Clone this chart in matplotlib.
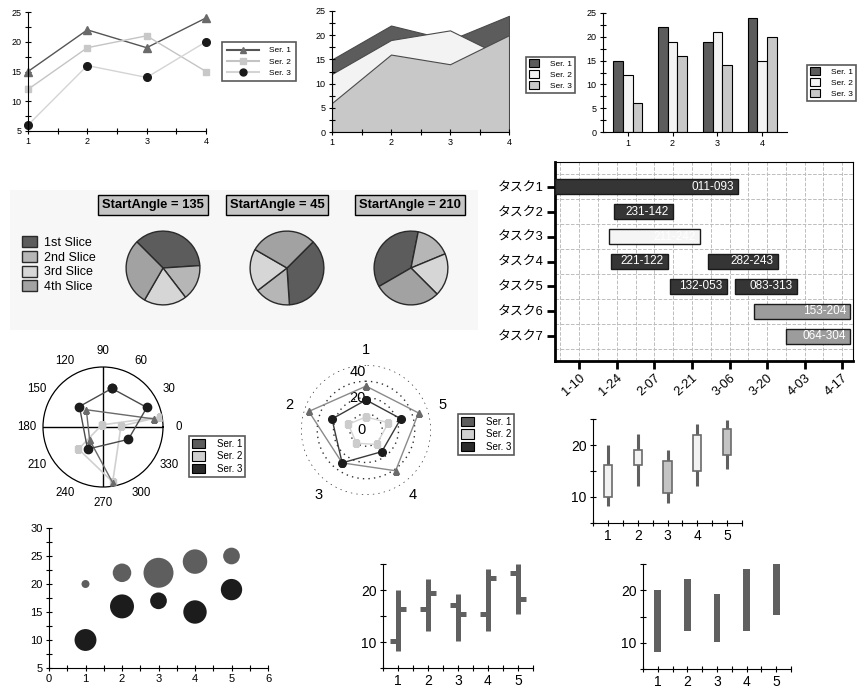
import numpy as np
import matplotlib
matplotlib.use('Agg')
import matplotlib.pyplot as plt
import matplotlib.dates as mdates
from matplotlib.lines import Line2D
from matplotlib.patches import Patch
from matplotlib.ticker import MultipleLocator, FuncFormatter

plt.rcParams['font.family'] = ['Liberation Sans', 'Noto Sans CJK JP', 'DejaVu Sans']

# ---------------- data ----------------
ser_names = ['Ser. 1', 'Ser. 2', 'Ser. 3']
cat_x = [1, 2, 3, 4]
ser1 = [15, 22, 19, 24]
ser2 = [12, 19, 21, 15]
ser3 = [6, 16, 14, 20]

slice_names = ['1st Slice', '2nd Slice', '3rd Slice', '4th Slice']
slice_values = [35, 15, 18, 28]
start_angles = [135, 45, 210]

task_names = ['タスク1', 'タスク2', 'タスク3', 'タスク4', 'タスク5', 'タスク6', 'タスク7']
gantt_row = [1, 2, 3, 4, 4, 5, 5, 6, 7]
gantt_start = ['2008-01-01', '2008-01-23', '2008-01-21', '2008-01-22', '2008-02-27',
               '2008-02-13', '2008-03-08', '2008-03-15', '2008-03-27']
gantt_end = ['2008-03-09', '2008-02-14', '2008-02-24', '2008-02-12', '2008-03-24',
             '2008-03-05', '2008-03-31', '2008-04-20', '2008-04-20']
gantt_code = ['011-093', '231-142', '211-242', '221-122', '282-243',
              '132-053', '083-313', '153-204', '064-304']
gantt_tone = [0, 0, 1, 0, 0, 0, 0, 2, 2]

# polar: angle (deg), radius
pol1_theta = [9, 134, 224, 280]
pol1_r = [8.6, 4.0, 3.1, 9.5]
pol2_theta = [120, 10, 3, 280, 222]
pol2_r = [0.4, 9.6, 3.0, 9.3, 5.5]
pol3_theta = [77, 24, 334, 235, 139]
pol3_r = [6.6, 8.0, 4.7, 4.5, 5.2]

radar_cats = ['1', '2', '3', '4', '5']
radar1 = [27, 37, 25, 31, 34]
radar2 = [8, 11.5, 10, 11, 14.5]
radar3 = [18.5, 22, 25, 16.5, 22.5]

stock_x = [1, 2, 3, 4, 5]
c_open = [10, 16.2, 17, 15, 23]
c_close = [16.2, 19.1, 10.8, 22, 18]
c_high = [20, 22.2, 19.1, 24, 24.9]
c_low = [8.2, 12.2, 8.9, 12.2, 15.3]

o_open = [10.2, 16.4, 17.2, 15.3, 23.2]
o_close = [16.4, 19.4, 15.3, 22.4, 18.3]
o_high = [20, 22.2, 19.2, 24.1, 25]
o_low = [8.2, 12.2, 10.2, 12.2, 15.3]

bub_x = [1, 2, 3, 4, 5]
bubA_y = [20, 22, 22, 24, 25]
bubA_size = [1.6, 8.6, 22.5, 15, 7]
bubB_y = [10, 16, 17, 15, 19]
bubB_size = [12, 14.4, 7, 13.7, 11.4]

# ---------------- layout helpers ----------------
W, H = 859, 695
fig = plt.figure(figsize=(W / 100, H / 100), dpi=100)


def px_axes(x0, y0, x1, y1, **kw):
    return fig.add_axes([x0 / W, 1 - y1 / H, (x1 - x0) / W, (y1 - y0) / H], **kw)


def fxy(x, y):
    return (x / W, 1 - y / H)


def plain(ax, fs):
    ax.spines['top'].set_visible(False)
    ax.spines['right'].set_visible(False)
    ax.tick_params(which='both', direction='inout', length=5, width=0.8,
                   labelsize=fs, pad=2)


def patch_legend(colors, x, y, fs=6):
    hs = [Patch(facecolor=c, edgecolor='black', lw=0.8) for c in colors]
    leg = fig.legend(hs, ser_names, loc='upper left', bbox_to_anchor=fxy(x, y),
                     fontsize=fs, frameon=True, fancybox=False, edgecolor='#303030',
                     handlelength=1.3, handleheight=1.1, handletextpad=1.3,
                     borderpad=0.3, labelspacing=0.25, borderaxespad=0)
    leg.get_frame().set_linewidth(1.2)
    return leg


ser_fill = ['#5c5c5c', '#f3f3f3', '#c8c8c8']

# ---------------- 1: line chart ----------------
ax1 = px_axes(28, 12, 206, 131)
ax1.plot(cat_x, ser1, color='#555555', lw=1, marker='^', ms=5.5, mfc='#6a6a6a',
         mec='#6a6a6a', clip_on=False)
ax1.plot(cat_x, ser2, color='#c4c4c4', lw=1, marker='s', ms=5, mfc='#c8c8c8',
         mec='#c8c8c8', clip_on=False)
ax1.plot(cat_x, ser3, color='#d4d4d4', lw=1, marker='o', ms=5.5, mfc='#1a1a1a',
         mec='#1a1a1a', clip_on=False)
ax1.set_xlim(1, 4)
ax1.set_ylim(5, 25)
ax1.xaxis.set_major_locator(MultipleLocator(1))
ax1.xaxis.set_minor_locator(MultipleLocator(0.5))
ax1.yaxis.set_major_locator(MultipleLocator(5))
ax1.yaxis.set_minor_locator(MultipleLocator(2.5))
plain(ax1, 6.5)
line_handles = [Line2D([], [], color='#555555', marker='^', ms=5, mfc='#6a6a6a', mec='#6a6a6a'),
                Line2D([], [], color='#c4c4c4', marker='s', ms=4.5, mfc='#c8c8c8', mec='#c8c8c8'),
                Line2D([], [], color='#d4d4d4', marker='o', ms=5, mfc='#1a1a1a', mec='#1a1a1a')]
leg1 = fig.legend(line_handles, ser_names, loc='upper left', bbox_to_anchor=fxy(222, 42),
                  fontsize=6, frameon=True, fancybox=False, edgecolor='#303030',
                  handlelength=3.9, handletextpad=1.2, borderpad=0.55,
                  labelspacing=0.4, borderaxespad=0)
leg1.get_frame().set_linewidth(1.2)

# ---------------- 2: area chart ----------------
ax2 = px_axes(332, 11, 509, 132)
for vals, c in zip([ser1, ser2, ser3], ser_fill):
    ax2.fill_between(cat_x, 0, vals, facecolor=c, edgecolor='#4a4a4a', lw=0.8)
ax2.set_xlim(1, 4)
ax2.set_ylim(0, 25)
ax2.xaxis.set_major_locator(MultipleLocator(1))
ax2.xaxis.set_minor_locator(MultipleLocator(0.5))
ax2.yaxis.set_major_locator(MultipleLocator(5))
ax2.yaxis.set_minor_locator(MultipleLocator(2.5))
plain(ax2, 6.5)
patch_legend(ser_fill, 526, 57)

# ---------------- 3: bar chart ----------------
ax3 = px_axes(603, 13, 787, 132)
bw = 0.22
for i, (vals, c) in enumerate(zip([ser1, ser2, ser3], ser_fill)):
    ax3.bar(np.array(cat_x) + (i - 1) * bw, vals, bw, color=c, edgecolor='black', lw=0.8)
ax3.set_xlim(0.45, 4.55)
ax3.set_ylim(0, 25)
ax3.set_xticks(cat_x)
ax3.yaxis.set_major_locator(MultipleLocator(5))
ax3.yaxis.set_minor_locator(MultipleLocator(2.5))
plain(ax3, 6.5)
ax3.tick_params(axis='x', direction='out', length=3)
patch_legend(ser_fill, 807, 65)

# ---------------- 4: pies ----------------
bg = px_axes(10, 190, 478, 330)
bg.set_facecolor('#f7f7f7')
bg.set_xticks([])
bg.set_yticks([])
for s in bg.spines.values():
    s.set_visible(False)

pie_colors = ['#5c5c5c', '#b6b6b6', '#d6d6d6', '#a2a2a2']
for cx, tx, sa in zip([163, 287, 411], [153, 277, 410], start_angles):
    axp = px_axes(cx - 38, 230, cx + 38, 306)
    axp.pie(slice_values, colors=pie_colors, startangle=sa, counterclock=False,
            wedgeprops=dict(edgecolor='#2a2a2a', linewidth=1))
    axp.set_xlim(-1.03, 1.03)
    axp.set_ylim(-1.03, 1.03)
    fig.text(tx / W, 1 - 205 / H, f'StartAngle = {sa}', ha='center', va='center',
             fontsize=9.4, weight='bold',
             bbox=dict(boxstyle='square,pad=0.28', fc='#c4c4c4', ec='black', lw=1))

pie_handles = [Patch(facecolor=c, edgecolor='#2a2a2a', lw=1) for c in pie_colors]
fig.legend(pie_handles, slice_names, loc='upper left', bbox_to_anchor=fxy(22, 236),
           fontsize=9, frameon=False, handlelength=1.2, handleheight=1.0,
           handletextpad=0.6, borderpad=0, labelspacing=0.15, borderaxespad=0)

# ---------------- 5: gantt ----------------
axg = px_axes(555, 162, 853, 361)
g_start = mdates.date2num(np.array(gantt_start, dtype='datetime64[D]'))
g_end = mdates.date2num(np.array(gantt_end, dtype='datetime64[D]'))
tones = ['#353535', '#f5f5f5', '#9c9c9c']
for row, s, e, code, t in zip(gantt_row, g_start, g_end, gantt_code, gantt_tone):
    axg.barh(row, e - s, left=s, height=0.6, color=tones[t], edgecolor='#1a1a1a',
             lw=1, zorder=3)
    axg.text(e - 1.5, row, code, ha='right', va='center', color='white',
             fontsize=8.5, zorder=4)
axg.set_xlim(mdates.date2num(np.datetime64('2008-01-01')),
             mdates.date2num(np.datetime64('2008-04-21')))
axg.set_ylim(8, 0)
axg.set_yticks(range(1, 8))
axg.set_yticklabels(task_names)
axg.set_yticks(np.arange(0.5, 8, 1), minor=True)
major_days = np.arange(np.datetime64('2008-01-10'), np.datetime64('2008-04-18'), 14)
minor_days = np.arange(np.datetime64('2008-01-03'), np.datetime64('2008-04-21'), 7)
axg.set_xticks(mdates.date2num(major_days))
axg.set_xticks(mdates.date2num(minor_days), minor=True)


def md(v, pos):
    d = mdates.num2date(v)
    return f'{d.month}-{d.day:02d}'


axg.xaxis.set_major_formatter(FuncFormatter(md))
axg.xaxis.grid(True, which='both', ls='--', color='#bdbdbd', lw=0.7)
axg.yaxis.grid(True, which='minor', ls='--', color='#bdbdbd', lw=0.7)
axg.set_axisbelow(True)
axg.tick_params(which='major', length=6, width=2, direction='out', pad=2)
axg.tick_params(axis='y', labelsize=9.3)
axg.tick_params(axis='x', labelsize=9.3)
axg.tick_params(which='minor', length=0)
for lab in axg.get_xticklabels():
    lab.set_rotation(42)
    lab.set_ha('right')
    lab.set_rotation_mode('anchor')
axg.spines['left'].set_linewidth(2)
axg.spines['bottom'].set_linewidth(2)
axg.spines['top'].set_linewidth(0.8)
axg.spines['right'].set_linewidth(0.8)

# ---------------- 6: polar ----------------
axr = px_axes(43, 367, 163, 487, projection='polar')
axr.set_facecolor('none')
th1 = np.deg2rad(pol1_theta)
th2 = np.deg2rad(pol2_theta + pol2_theta[:1])
th3 = np.deg2rad(pol3_theta + pol3_theta[:1])
for ang in [0, 90, 180, 270]:
    axr.axvline(np.deg2rad(ang), color='black', lw=1, zorder=1)
axr.plot(th2, pol2_r + pol2_r[:1], color='#d0d0d0', lw=1.2, marker='s', ms=5,
         mfc='#c8c8c8', mec='#c8c8c8', zorder=3)
axr.plot(th1, pol1_r, color='#6a6a6a', lw=1, marker='^', ms=5, mfc='#6a6a6a',
         mec='#6a6a6a', zorder=4)
axr.plot(th3, pol3_r + pol3_r[:1], color='#4a4a4a', lw=1, marker='o', ms=6,
         mfc='#1c1c1c', mec='#1c1c1c', zorder=5)
axr.set_ylim(0, 10)
axr.set_yticks([])
axr.set_xticks(np.deg2rad(np.arange(0, 360, 30)))
axr.set_xticklabels([str(a) for a in range(0, 360, 30)])
axr.grid(False)
axr.tick_params(axis='x', direction='inout', length=6, width=1, pad=1.5, labelsize=8.3)
axr.spines['polar'].set_linewidth(0.9)
patch_legend(['#5c5c5c', '#d0d0d0', '#2a2a2a'], 189, 436, fs=7)

# ---------------- 7: radar ----------------
axd = px_axes(301, 365, 431, 495, projection='polar')
axd.set_facecolor('none')
axd.set_theta_offset(np.pi / 2)
rad_th = np.deg2rad(np.arange(0, 360, 72))
rad_th_c = np.append(rad_th, rad_th[0])
axd.plot(rad_th_c, radar1 + radar1[:1], color='#8a8a8a', lw=1, marker='^', ms=5,
         mfc='#6a6a6a', mec='#6a6a6a', zorder=3)
axd.plot(rad_th_c, radar3 + radar3[:1], color='#3a3a3a', lw=1, marker='o', ms=5.5,
         mfc='#1c1c1c', mec='#1c1c1c', zorder=4)
axd.plot(rad_th_c, radar2 + radar2[:1], color='#d4d4d4', lw=1, marker='s', ms=5,
         mfc='#cccccc', mec='#cccccc', zorder=5)
axd.set_ylim(0, 40)
axd.set_yticks([10, 20, 30, 40])
axd.set_yticklabels([])
axd.set_xticks(rad_th)
axd.set_xticklabels(radar_cats)
axd.xaxis.grid(False)
axd.yaxis.grid(True, color='#303030', ls=(0, (1, 3)), lw=1)
axd.spines['polar'].set_visible(False)
axd.tick_params(axis='x', length=0, pad=4, labelsize=10.5)
for rv in [0, 20, 40]:
    axd.text(0, rv, str(rv), ha='right', va='top' if rv == 40 else 'center',
             fontsize=10.5, zorder=2)
patch_legend(['#5c5c5c', '#d0d0d0', '#2a2a2a'], 458, 414, fs=7)

# ---------------- 8: candlestick ----------------
ax8 = px_axes(593, 419, 742, 523)
ax8.vlines(stock_x, c_low, c_high, color='#606060', lw=2.2, zorder=2)
for x, o, c in zip(stock_x, c_open, c_close):
    ax8.bar(x, abs(c - o), 0.27, bottom=min(o, c),
            color='#f2f2f2' if c > o else '#c4c4c4', edgecolor='#6a6a6a', lw=1.2, zorder=3)
ax8.set_xlim(0.5, 5.5)
ax8.set_ylim(5, 25)
ax8.set_xticks(stock_x)
ax8.xaxis.set_minor_locator(MultipleLocator(0.5))
ax8.set_yticks([10, 20])
ax8.yaxis.set_minor_locator(MultipleLocator(5))
plain(ax8, 10)

# ---------------- 9: bubbles ----------------
ax9 = px_axes(49, 528, 268, 668)
ax9.scatter(bub_x, bubA_y, s=np.array(bubA_size) * 20.7, color='#5e5e5e', lw=0)
ax9.scatter(bub_x, bubB_y, s=np.array(bubB_size) * 20.7, color='#1c1c1c', lw=0)
ax9.set_xlim(0, 6)
ax9.set_ylim(5, 30)
ax9.xaxis.set_major_locator(MultipleLocator(1))
ax9.xaxis.set_minor_locator(MultipleLocator(0.5))
ax9.yaxis.set_major_locator(MultipleLocator(5))
ax9.yaxis.set_minor_locator(MultipleLocator(2.5))
plain(ax9, 8)

# ---------------- 10: OHLC ----------------
ax10 = px_axes(383, 564, 533, 668)
ax10.vlines(stock_x, o_low, o_high, color='#606060', lw=3.6)
ax10.hlines(o_open, np.array(stock_x) - 0.27, stock_x, color='#606060', lw=3.6)
ax10.hlines(o_close, stock_x, np.array(stock_x) + 0.27, color='#606060', lw=3.6)
ax10.set_xlim(0.5, 5.5)
ax10.set_ylim(5, 25)
ax10.set_xticks(stock_x)
ax10.xaxis.set_minor_locator(MultipleLocator(0.5))
ax10.set_yticks([10, 20])
ax10.yaxis.set_minor_locator(MultipleLocator(5))
plain(ax10, 10)

# ---------------- 11: high-low bars ----------------
ax11 = px_axes(643, 564, 791, 669)
ax11.bar(stock_x, np.array(o_high) - np.array(o_low), 0.23, bottom=o_low, color='#606060')
ax11.set_xlim(0.5, 5.5)
ax11.set_ylim(5, 25)
ax11.set_xticks(stock_x)
ax11.xaxis.set_minor_locator(MultipleLocator(0.5))
ax11.set_yticks([10, 20])
ax11.yaxis.set_minor_locator(MultipleLocator(5))
plain(ax11, 10)

fig.savefig('out.png', dpi=100)
